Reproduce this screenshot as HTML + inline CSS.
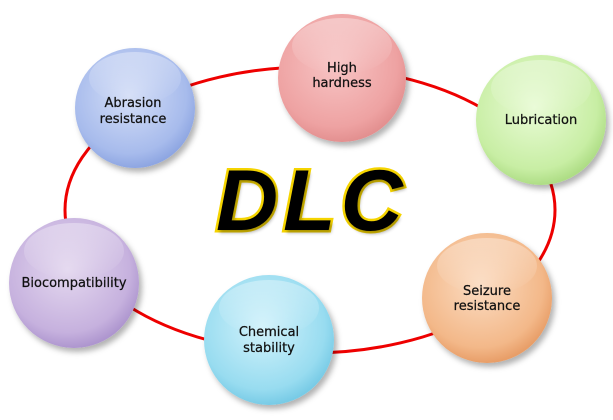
<!DOCTYPE html>
<html><head><style>
body{margin:0;width:613px;height:420px;background:#fff;overflow:hidden;position:relative;font-family:"Liberation Sans",sans-serif}
svg{position:absolute;left:0;top:0}
.t{font-family:"DejaVu Sans","Liberation Sans",sans-serif;font-size:13px;fill:#111;text-anchor:middle;stroke:#111;stroke-width:0.25}
.dlc{position:absolute;left:216px;top:152px;font:italic bold 86px "Liberation Sans",sans-serif;letter-spacing:5px;color:#000;-webkit-text-stroke:5px #f5d400;paint-order:stroke fill;text-shadow:2px 3px 3px rgba(0,0,0,.3)}
</style></head><body>
<svg width="613" height="420">
<defs>
<filter id="sh" x="-20%" y="-20%" width="150%" height="150%"><feDropShadow dx="3" dy="4" stdDeviation="3" flood-opacity="0.3"/></filter>
<radialGradient id="g1" cx="45%" cy="40%" r="60%"><stop offset="0" stop-color="#f7c4c4"/><stop offset=".8" stop-color="#eea2a2"/><stop offset="1" stop-color="#e39090"/></radialGradient>
<radialGradient id="g2" cx="45%" cy="40%" r="60%"><stop offset="0" stop-color="#e9fbd6"/><stop offset=".8" stop-color="#c8eea4"/><stop offset="1" stop-color="#aedd85"/></radialGradient>
<radialGradient id="g3" cx="45%" cy="40%" r="60%"><stop offset="0" stop-color="#d4def7"/><stop offset=".8" stop-color="#a7bbec"/><stop offset="1" stop-color="#8ea6e2"/></radialGradient>
<radialGradient id="g4" cx="45%" cy="40%" r="60%"><stop offset="0" stop-color="#e4d8ef"/><stop offset=".8" stop-color="#c6b1de"/><stop offset="1" stop-color="#ae96cf"/></radialGradient>
<radialGradient id="g5" cx="45%" cy="40%" r="60%"><stop offset="0" stop-color="#d2f2fb"/><stop offset=".8" stop-color="#98dcf0"/><stop offset="1" stop-color="#78cbe6"/></radialGradient>
<radialGradient id="g6" cx="45%" cy="40%" r="60%"><stop offset="0" stop-color="#fbdcc2"/><stop offset=".8" stop-color="#f3b889"/><stop offset="1" stop-color="#e89e68"/></radialGradient>
<linearGradient id="hl" x1="0" y1="0" x2="0" y2="1"><stop offset="0" stop-color="#fff" stop-opacity=".35"/><stop offset="1" stop-color="#fff" stop-opacity="0"/></linearGradient>
</defs>
<ellipse cx="310" cy="210" rx="245" ry="143" fill="none" stroke="#e00" stroke-width="3"/>
<g filter="url(#sh)">
<circle cx="342" cy="78" r="64" fill="url(#g1)"/>
<circle cx="541" cy="120" r="65" fill="url(#g2)"/>
<circle cx="135" cy="108" r="60" fill="url(#g3)"/>
<circle cx="74" cy="283" r="65" fill="url(#g4)"/>
<circle cx="269" cy="340" r="65" fill="url(#g5)"/>
<circle cx="487" cy="298" r="65" fill="url(#g6)"/>
</g>
<g fill="url(#hl)">
<ellipse cx="342" cy="46" rx="50" ry="28"/>
<ellipse cx="541" cy="88" rx="50" ry="28"/>
<ellipse cx="135" cy="78" rx="46" ry="26"/>
<ellipse cx="74" cy="251" rx="50" ry="28"/>
<ellipse cx="269" cy="308" rx="50" ry="28"/>
<ellipse cx="487" cy="266" rx="50" ry="28"/>
</g>
<text class="t" x="342" y="72">High</text><text class="t" x="342" y="87">hardness</text>
<text class="t" x="541" y="124">Lubrication</text>
<text class="t" x="133" y="107">Abrasion</text><text class="t" x="133" y="123">resistance</text>
<text class="t" x="74" y="287">Biocompatibility</text>
<text class="t" x="269" y="336">Chemical</text><text class="t" x="269" y="352">stability</text>
<text class="t" x="487" y="295">Seizure</text><text class="t" x="487" y="310">resistance</text>
</svg>
<div class="dlc">DLC</div>
</body></html>
